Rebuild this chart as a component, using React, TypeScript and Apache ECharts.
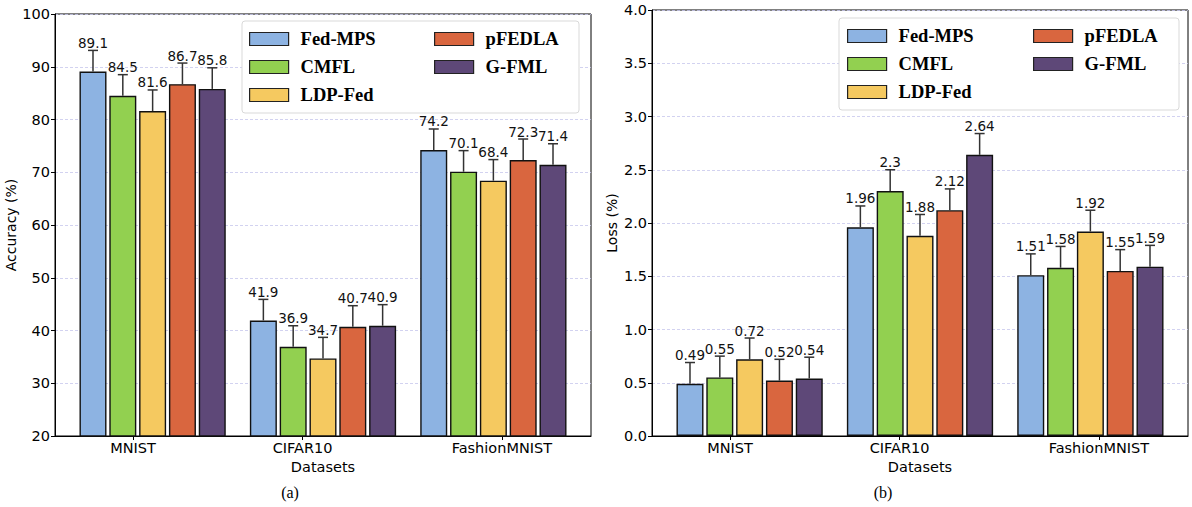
import React, { useEffect, useRef } from 'react';
import * as echarts from 'echarts';

const categories = ['MNIST', 'CIFAR10', 'FashionMNIST'];
const methods = ['Fed-MPS', 'CMFL', 'LDP-Fed', 'pFEDLA', 'G-FML'];
const colors = ['#8db3e2', '#92d050', '#f5c960', '#d9663f', '#5e4878'];

// values per method, across categories
const accuracy = [
  [89.1, 41.9, 74.2],
  [84.5, 36.9, 70.1],
  [81.6, 34.7, 68.4],
  [86.7, 40.7, 72.3],
  [85.8, 40.9, 71.4],
];
const loss = [
  [0.49, 1.96, 1.51],
  [0.55, 2.3, 1.58],
  [0.72, 1.88, 1.92],
  [0.52, 2.12, 1.55],
  [0.54, 2.64, 1.59],
];
const accuracyErr = 4;
const lossErr = 0.2;

const barStep = 0.175;
const labelPositions = [0.235, 1.23, 2.4];

const FONT = 'DejaVu Sans';
const SERIF = 'Liberation Serif';

function nearestCategory(v: number) {
  let best = 0;
  let d = Infinity;
  labelPositions.forEach((p, i) => {
    if (Math.abs(p - v) < d) {
      d = Math.abs(p - v);
      best = i;
    }
  });
  return categories[best];
}

export default function App() {
  const ref = useRef<HTMLDivElement>(null);
  useEffect(() => {
    if (!ref.current) return;
    const chart = echarts.init(ref.current, undefined, { renderer: 'svg' });
    const datasets = [
      { vals: accuracy, err: accuracyErr },
      { vals: loss, err: lossErr },
    ];
    const series: any[] = [];
    datasets.forEach((ds, k) => {
      methods.forEach((m, j) => {
        series.push({
          type: 'bar',
          name: m,
          xAxisIndex: k,
          yAxisIndex: k,
          barWidth: 27,
          barGap: '-100%',
          itemStyle: { color: colors[j], borderColor: '#111', borderWidth: 1.4 },
          data: categories.map((_, i) => [i + j * barStep, ds.vals[j][i]]),
          z: 2,
        });
      });
      const errData: number[][] = [];
      methods.forEach((_, j) => {
        categories.forEach((_, i) => {
          errData.push([i + j * barStep, ds.vals[j][i], ds.err]);
        });
      });
      series.push({
        type: 'custom',
        xAxisIndex: k,
        yAxisIndex: k,
        clip: false,
        z: 5,
        data: errData,
        renderItem: (params: any, api: any) => {
          const x = api.value(0);
          const y = api.value(1);
          const e = api.value(2);
          const p0 = api.coord([x, y]);
          const p1 = api.coord([x, y + e]);
          return {
            type: 'group',
            children: [
              { type: 'line', shape: { x1: p0[0], y1: p0[1], x2: p1[0], y2: p1[1] }, style: { stroke: '#333', lineWidth: 1.5 } },
              { type: 'line', shape: { x1: p1[0] - 5, y1: p1[1], x2: p1[0] + 5, y2: p1[1] }, style: { stroke: '#333', lineWidth: 1.5 } },
              {
                type: 'text',
                x: p1[0],
                y: p1[1] - 0.5,
                style: {
                  text: String(y),
                  align: 'center',
                  verticalAlign: 'bottom',
                  fontSize: 13.5,
                  fontFamily: FONT,
                  fill: '#111',
                },
              },
            ],
          };
        },
      });
    });

    const axisLine = { show: true, onZero: false, lineStyle: { color: '#000', width: 1 } };
    const tickStyle = { color: '#000', width: 1 };
    const makeX = (k: number) => ({
      type: 'value',
      gridIndex: k,
      min: -0.223,
      max: 2.923,
      axisLine,
      axisTick: { show: true, customValues: labelPositions, length: 4, lineStyle: tickStyle },
      axisLabel: {
        customValues: labelPositions,
        formatter: (v: number) => nearestCategory(v),
        fontSize: 14.5,
        fontFamily: FONT,
        color: '#000',
        margin: 4,
      },
      splitLine: { show: false },
      name: 'Datasets',
      nameLocation: 'middle',
      nameGap: 21,
      nameTextStyle: { fontSize: 14.5, fontFamily: FONT, color: '#000' },
    });
    const splitLine = { show: true, lineStyle: { color: '#c6c6ec', type: [3, 2], width: 0.8 } };

    const legendCommon = {
      orient: 'vertical',
      icon: 'rect',
      itemWidth: 39,
      itemHeight: 13,
      itemGap: 8,
      padding: 0,
      z: 20,
      itemStyle: { borderColor: '#222', borderWidth: 1.2 },
      textStyle: {
        fontFamily: SERIF,
        fontWeight: 'bold',
        fontSize: 18.5,
        color: '#000',
        lineHeight: 20,
        padding: [0, 0, 0, 7],
      },
    };

    chart.setOption({
      animation: false,
      grid: [
        { left: 55, right: 601, top: 14, bottom: 71, show: true, borderColor: '#000', borderWidth: 1 },
        { left: 652, right: 4, top: 10, bottom: 71, show: true, borderColor: '#000', borderWidth: 1 },
      ],
      xAxis: [makeX(0), makeX(1)],
      yAxis: [
        {
          type: 'value',
          gridIndex: 0,
          min: 20,
          max: 100,
          interval: 10,
          axisLine,
          axisTick: { show: true, length: 4, lineStyle: tickStyle },
          axisLabel: { fontSize: 14.5, fontFamily: FONT, color: '#000', margin: 5 },
          splitLine,
          name: 'Accuracy (%)',
          nameLocation: 'middle',
          nameGap: 34,
          nameTextStyle: { fontSize: 14, fontFamily: FONT, color: '#000' },
        },
        {
          type: 'value',
          gridIndex: 1,
          min: 0,
          max: 4,
          interval: 0.5,
          axisLine,
          axisTick: { show: true, length: 4, lineStyle: tickStyle },
          axisLabel: {
            fontSize: 14.5,
            fontFamily: FONT,
            color: '#000',
            margin: 5,
            formatter: (v: number) => v.toFixed(1),
          },
          splitLine,
          name: 'Loss (%)',
          nameLocation: 'middle',
          nameGap: 33,
          nameTextStyle: { fontSize: 14, fontFamily: FONT, color: '#000' },
        },
      ],
      legend: [
        { ...legendCommon, data: methods.slice(0, 3), left: 249, top: 29 },
        { ...legendCommon, data: methods.slice(3), left: 434, top: 29 },
        { ...legendCommon, data: methods.slice(0, 3), left: 847, top: 26 },
        { ...legendCommon, data: methods.slice(3), left: 1033, top: 26 },
      ],
      graphic: [
        {
          type: 'rect',
          z: 10,
          shape: { x: 242, y: 21, width: 337, height: 92, r: 3 },
          style: { fill: '#fff', stroke: '#d9d9d9', lineWidth: 1 },
        },
        {
          type: 'rect',
          z: 10,
          shape: { x: 839, y: 18, width: 340, height: 92, r: 3 },
          style: { fill: '#fff', stroke: '#d9d9d9', lineWidth: 1 },
        },
        {
          type: 'text',
          x: 290,
          y: 492,
          style: { text: '(a)', fontSize: 16, fontFamily: SERIF, fill: '#000', align: 'center', verticalAlign: 'middle' },
        },
        {
          type: 'text',
          x: 883,
          y: 492,
          style: { text: '(b)', fontSize: 16, fontFamily: SERIF, fill: '#000', align: 'center', verticalAlign: 'middle' },
        },
      ],
      series,
    });
    return () => chart.dispose();
  }, []);
  return (
    <div
      ref={ref}
      style={{ position: 'fixed', left: 0, top: 0, width: 1192, height: 507, background: '#fff' }}
    />
  );
}
